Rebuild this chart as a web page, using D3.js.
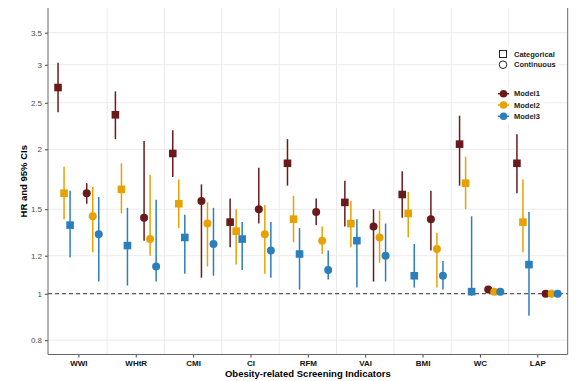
<!DOCTYPE html>
<html>
<head>
<meta charset="utf-8">
<script src="https://cdn.jsdelivr.net/npm/d3@7"></script>
<style>
  body { margin: 0; background: #fff; }
  svg { font-family: "Liberation Sans", Arial, sans-serif; }
</style>
</head>
<body>
<svg width="579" height="381"></svg>
<script>
// indicators on the x axis
var indicators = ["WWI", "WHtR", "CMI", "CI", "RFM", "VAI", "BMI", "WC", "LAP"];
var models = ["Model1", "Model2", "Model3"];
var modelColors = ["#6b1a1c", "#e6a200", "#2b7fbb"];
var yTicks = [0.8, 1, 1.2, 1.5, 2, 2.5, 3, 3.5];

// categorical (squares)
var catM1_hr = [2.69, 2.36, 1.96, 1.41, 1.87, 1.55, 1.61, 2.05, 1.87];
var catM1_lo = [2.39, 2.10, 1.75, 1.25, 1.68, 1.38, 1.44, 1.68, 1.62];
var catM1_hi = [3.03, 2.64, 2.19, 1.58, 2.10, 1.72, 1.80, 2.35, 2.15];
var catM2_hr = [1.62, 1.65, 1.54, 1.35, 1.43, 1.40, 1.47, 1.70, 1.41];
var catM2_lo = [1.43, 1.47, 1.37, 1.15, 1.28, 1.25, 1.31, 1.50, 1.22];
var catM2_hi = [1.84, 1.87, 1.73, 1.50, 1.60, 1.56, 1.63, 1.93, 1.73];
var catM3_hr = [1.39, 1.26, 1.31, 1.30, 1.21, 1.29, 1.09, 1.01, 1.15];
var catM3_lo = [1.19, 1.04, 1.10, 1.12, 1.02, 1.03, 1.03, 0.99, 0.90];
var catM3_hi = [1.64, 1.51, 1.46, 1.41, 1.37, 1.43, 1.27, 1.45, 1.48];

// continuous (circles)
var conM1_hr = [1.62, 1.44, 1.56, 1.50, 1.48, 1.38, 1.43, 1.02, 1.00];
var conM1_lo = [1.54, 1.29, 1.08, 1.40, 1.39, 1.06, 1.23, 1.01, 0.995];
var conM1_hi = [1.70, 2.08, 1.69, 1.83, 1.58, 1.50, 1.64, 1.03, 1.005];
var conM2_hr = [1.45, 1.30, 1.40, 1.33, 1.29, 1.31, 1.24, 1.01, 1.00];
var conM2_lo = [1.22, 1.20, 1.14, 1.10, 1.21, 1.16, 1.03, 1.005, 0.995];
var conM2_hi = [1.67, 1.77, 1.55, 1.53, 1.38, 1.49, 1.34, 1.015, 1.005];
var conM3_hr = [1.33, 1.14, 1.27, 1.23, 1.12, 1.20, 1.09, 1.01, 1.00];
var conM3_lo = [1.06, 1.06, 1.09, 1.08, 1.07, 1.06, 1.02, 1.005, 0.995];
var conM3_hi = [1.59, 1.57, 1.51, 1.41, 1.23, 1.40, 1.17, 1.015, 1.005];

var series = [
  {type: "cat", m: 0, hr: catM1_hr, lo: catM1_lo, hi: catM1_hi},
  {type: "cat", m: 1, hr: catM2_hr, lo: catM2_lo, hi: catM2_hi},
  {type: "cat", m: 2, hr: catM3_hr, lo: catM3_lo, hi: catM3_hi},
  {type: "con", m: 0, hr: conM1_hr, lo: conM1_lo, hi: conM1_hi},
  {type: "con", m: 1, hr: conM2_hr, lo: conM2_lo, hi: conM2_hi},
  {type: "con", m: 2, hr: conM3_hr, lo: conM3_lo, hi: conM3_hi}
];

// flatten into rows
var rows = [];
series.forEach(function(s) {
  indicators.forEach(function(ind, i) {
    rows.push({type: s.type, m: s.m, i: i, hr: s.hr[i], lo: s.lo[i], hi: s.hi[i]});
  });
});

var svg = d3.select("svg");
// note: "top" is taken by window.top, so use plot* names
var plotL = 48, plotR = 567.7, plotT = 8, plotB = 354.5;

var x = d3.scaleLinear().domain([0.47, 9.53]).range([plotL, plotR]);
var y = d3.scaleLog().domain([0.747, 3.94]).range([plotB, plotT]);

function xPos(d) {
  var off = (d.type === "cat" ? -0.25 : 0.25) + (d.m - 1) * 0.105;
  return x(d.i + 1 + off);
}

// grid
var grid = svg.append("g");
grid.selectAll("line.h").data(yTicks).enter().append("line")
  .attr("x1", plotL).attr("x2", plotR)
  .attr("y1", function(d) { return y(d); }).attr("y2", function(d) { return y(d); })
  .attr("stroke", "#ebebeb").attr("stroke-width", 1);
grid.selectAll("line.v").data(d3.range(1, 9)).enter().append("line")
  .attr("x1", function(d) { return x(d + 0.5); }).attr("x2", function(d) { return x(d + 0.5); })
  .attr("y1", plotT).attr("y2", plotB)
  .attr("stroke", "#ebebeb").attr("stroke-width", 1);

// reference line at HR = 1
svg.append("line")
  .attr("x1", plotL).attr("x2", plotR)
  .attr("y1", y(1)).attr("y2", y(1))
  .attr("stroke", "#333").attr("stroke-width", 1)
  .attr("stroke-dasharray", "4,3");

// error bars
svg.append("g").selectAll("line").data(rows).enter().append("line")
  .attr("x1", xPos).attr("x2", xPos)
  .attr("y1", function(d) { return y(d.lo); })
  .attr("y2", function(d) { return y(d.hi); })
  .attr("stroke", function(d) { return modelColors[d.m]; })
  .attr("stroke-width", 1.5);

// points
var sq = 7.6;
svg.append("g").selectAll("rect").data(rows.filter(function(d) { return d.type === "cat"; }))
  .enter().append("rect")
  .attr("x", function(d) { return xPos(d) - sq / 2; })
  .attr("y", function(d) { return y(d.hr) - sq / 2; })
  .attr("width", sq).attr("height", sq)
  .attr("fill", function(d) { return modelColors[d.m]; });
svg.append("g").selectAll("circle").data(rows.filter(function(d) { return d.type === "con"; }))
  .enter().append("circle")
  .attr("cx", xPos)
  .attr("cy", function(d) { return y(d.hr); })
  .attr("r", 4)
  .attr("fill", function(d) { return modelColors[d.m]; });

// axes
var yAxis = d3.axisLeft(y).tickValues(yTicks).tickFormat(d3.format("")).tickSize(3).tickPadding(3);
var yG = svg.append("g").attr("transform", "translate(" + plotL + ",0)").call(yAxis);
yG.select(".domain").remove();
yG.selectAll("line").attr("stroke", "#444");
yG.selectAll("text").attr("fill", "#4d4d4d").style("font-size", "8px");

var xAxis = d3.axisBottom(x).tickValues(d3.range(1, 10))
  .tickFormat(function(d) { return indicators[d - 1]; }).tickSize(3).tickPadding(3);
var xG = svg.append("g").attr("transform", "translate(0," + plotB + ")").call(xAxis);
xG.select(".domain").remove();
xG.selectAll("line").attr("stroke", "#444");
xG.selectAll("text").attr("fill", "#111").style("font-size", "8px").style("font-weight", "bold");

// panel lines
svg.append("line").attr("x1", plotL).attr("x2", plotL).attr("y1", plotT).attr("y2", plotB)
  .attr("stroke", "#666").attr("stroke-width", 1);
svg.append("line").attr("x1", plotL).attr("x2", plotR).attr("y1", plotB).attr("y2", plotB)
  .attr("stroke", "#666").attr("stroke-width", 1);
svg.append("line").attr("x1", plotR).attr("x2", plotR).attr("y1", plotT).attr("y2", plotB)
  .attr("stroke", "#666").attr("stroke-width", 1);

// titles
svg.append("text")
  .attr("x", (plotL + plotR) / 2).attr("y", 377)
  .attr("text-anchor", "middle")
  .style("font-size", "9.5px").style("font-weight", "bold")
  .text("Obesity-related Screening Indicators");
svg.append("text")
  .attr("transform", "translate(27," + ((plotT + plotB) / 2) + ") rotate(-90)")
  .attr("text-anchor", "middle")
  .style("font-size", "9.5px").style("font-weight", "bold")
  .text("HR and 95% CIs");

// legend: shape
var leg1 = svg.append("g");
leg1.append("rect").attr("x", 497).attr("y", 46).attr("width", 61).attr("height", 25).attr("fill", "#fff");
leg1.append("rect").attr("x", 499.5).attr("y", 50.5).attr("width", 7).attr("height", 7)
  .attr("fill", "none").attr("stroke", "#222").attr("stroke-width", 1);
leg1.append("circle").attr("cx", 503).attr("cy", 64.7).attr("r", 3.8)
  .attr("fill", "none").attr("stroke", "#222").attr("stroke-width", 1);
leg1.selectAll("text").data(["Categorical", "Continuous"]).enter().append("text")
  .attr("x", 514).attr("y", function(d, i) { return 56.5 + i * 10.7; })
  .style("font-size", "7.5px").style("font-weight", "bold").attr("fill", "#222")
  .text(function(d) { return d; });

// legend: models
var leg2 = svg.append("g");
leg2.append("rect").attr("x", 497).attr("y", 87).attr("width", 47).attr("height", 36).attr("fill", "#fff");
models.forEach(function(m, i) {
  var cy = 93.7 + i * 11.3;
  leg2.append("line").attr("x1", 498).attr("x2", 509).attr("y1", cy).attr("y2", cy)
    .attr("stroke", modelColors[i]).attr("stroke-width", 1.5);
  leg2.append("circle").attr("cx", 503.5).attr("cy", cy).attr("r", 3.8).attr("fill", modelColors[i]);
  leg2.append("text").attr("x", 514).attr("y", cy + 2.7)
    .style("font-size", "7.5px").style("font-weight", "bold").attr("fill", "#222")
    .text(m);
});
</script>
</body>
</html>
